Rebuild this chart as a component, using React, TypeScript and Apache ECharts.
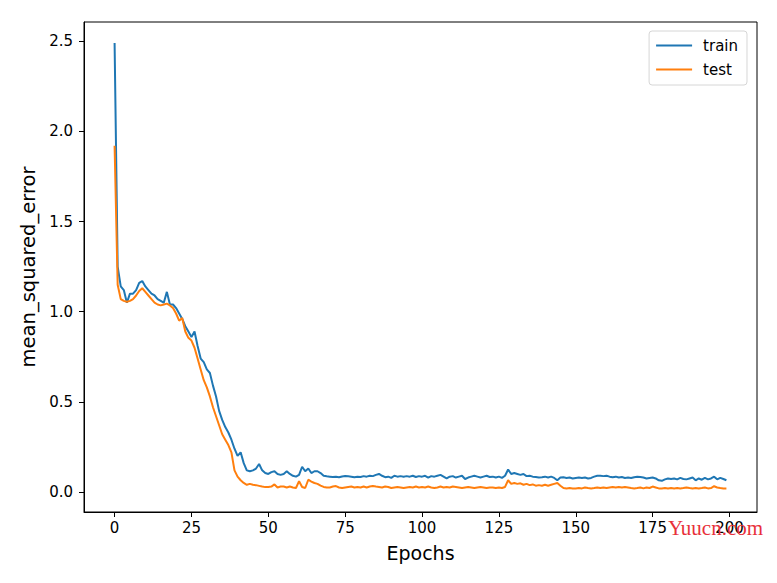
import React, { useEffect, useRef } from "react";
import * as echarts from "echarts";

const epochs: number[] = Array.from({ length: 200 }, (_, i) => i);

const trainMse: number[] = [
  2.49, 1.25, 1.14, 1.12, 1.05, 1.10, 1.10, 1.12, 1.16, 1.17,
  1.14, 1.12, 1.10, 1.09, 1.07, 1.06, 1.05, 1.11, 1.04, 1.04,
  1.02, 0.99, 0.96, 0.92, 0.89, 0.86, 0.89, 0.81, 0.74, 0.72,
  0.68, 0.66, 0.59, 0.53, 0.45, 0.40, 0.36, 0.33, 0.29, 0.24,
  0.20, 0.22, 0.16, 0.12, 0.115, 0.12, 0.13, 0.155, 0.12, 0.105,
  0.10, 0.11, 0.115, 0.10, 0.095, 0.10, 0.115, 0.10, 0.09, 0.085,
  0.095, 0.14, 0.115, 0.13, 0.105, 0.115, 0.115, 0.105, 0.09, 0.087,
  0.085, 0.083, 0.085, 0.082, 0.086, 0.089, 0.087, 0.085, 0.082, 0.085,
  0.083, 0.088, 0.085, 0.09, 0.088, 0.095, 0.1, 0.09, 0.082, 0.085,
  0.078, 0.09, 0.085, 0.088, 0.085, 0.088, 0.085, 0.09, 0.083, 0.088,
  0.085, 0.09, 0.08, 0.088, 0.085, 0.09, 0.095, 0.085, 0.075, 0.085,
  0.088, 0.08, 0.085, 0.09, 0.072, 0.08, 0.085, 0.09, 0.085, 0.08,
  0.085, 0.09, 0.083, 0.085, 0.08, 0.085, 0.078, 0.09, 0.125, 0.1,
  0.105, 0.1, 0.095, 0.1, 0.088, 0.09, 0.085, 0.083, 0.08, 0.082,
  0.085, 0.08, 0.085, 0.078, 0.065, 0.08, 0.082, 0.078, 0.08, 0.075,
  0.078, 0.08, 0.077, 0.08, 0.075, 0.078, 0.085, 0.09, 0.09, 0.088,
  0.09, 0.085, 0.082, 0.085, 0.08, 0.083, 0.078, 0.08, 0.078, 0.082,
  0.085, 0.083, 0.08, 0.075, 0.078, 0.08, 0.075, 0.065, 0.062, 0.07,
  0.075, 0.072, 0.075, 0.07, 0.078, 0.072, 0.07, 0.075, 0.08, 0.065,
  0.075, 0.068, 0.078, 0.07, 0.075, 0.085, 0.07, 0.078, 0.072, 0.065,
];

const testMse: number[] = [
  1.92, 1.15, 1.07, 1.06, 1.055, 1.06, 1.07, 1.09, 1.115, 1.13,
  1.11, 1.09, 1.07, 1.05, 1.04, 1.035, 1.04, 1.045, 1.035, 1.02,
  0.99, 0.95, 0.965, 0.89, 0.855, 0.84, 0.80, 0.74, 0.68, 0.62,
  0.58, 0.53, 0.47, 0.42, 0.37, 0.32, 0.29, 0.26, 0.22, 0.12,
  0.085, 0.065, 0.05, 0.04, 0.045, 0.04, 0.038, 0.034, 0.03, 0.027,
  0.028, 0.03, 0.042, 0.025, 0.03, 0.03, 0.025, 0.03, 0.025, 0.022,
  0.06, 0.028, 0.022, 0.068, 0.058, 0.05, 0.045, 0.035, 0.028, 0.025,
  0.025, 0.03, 0.033, 0.025, 0.022, 0.025, 0.028, 0.03, 0.025, 0.028,
  0.025, 0.03, 0.025, 0.03, 0.033, 0.03, 0.028, 0.025, 0.03, 0.028,
  0.022, 0.025, 0.028, 0.025, 0.022, 0.025, 0.028, 0.025, 0.03, 0.025,
  0.028, 0.025, 0.03, 0.025, 0.022, 0.025, 0.03, 0.025, 0.028, 0.025,
  0.03, 0.028, 0.025, 0.022, 0.025, 0.028, 0.025, 0.022, 0.025, 0.028,
  0.025, 0.022, 0.025, 0.025, 0.022, 0.025, 0.022, 0.028, 0.065, 0.045,
  0.05, 0.045, 0.048, 0.04, 0.045, 0.038, 0.042, 0.035, 0.038, 0.035,
  0.04, 0.035, 0.04, 0.045, 0.05, 0.035, 0.022, 0.02, 0.022, 0.02,
  0.02, 0.022, 0.02, 0.025, 0.022, 0.02, 0.022, 0.025, 0.022, 0.025,
  0.022, 0.025, 0.028, 0.025, 0.028, 0.025, 0.028, 0.025, 0.022, 0.02,
  0.022, 0.025, 0.02, 0.025, 0.022, 0.03, 0.025, 0.02, 0.02, 0.022,
  0.02, 0.022, 0.02, 0.022, 0.02, 0.022, 0.025, 0.022, 0.02, 0.022,
  0.02, 0.022, 0.025, 0.02, 0.022, 0.032, 0.025, 0.022, 0.02, 0.02,
];

const xTicks: number[] = [0, 25, 50, 75, 100, 125, 150, 175, 200];
const yTicks: number[] = [0, 0.5, 1.0, 1.5, 2.0, 2.5];

const FONT = "DejaVu Sans";

export default function App() {
  const ref = useRef<HTMLDivElement>(null);
  useEffect(() => {
    if (!ref.current) return;
    const chart = echarts.init(ref.current, undefined, { renderer: "svg" });
    const axisLine = { show: true, onZero: false, lineStyle: { color: "#000", width: 1 } };
    const tickStyle = { show: true, length: 5, lineStyle: { color: "#000", width: 1 } };
    chart.setOption({
      animation: false,
      backgroundColor: "#fff",
      grid: { left: 84, right: 20, top: 22, bottom: 71, containLabel: false, show: true, borderColor: "#000", borderWidth: 1 },
      legend: {
        right: 30,
        top: 31,
        orient: "vertical",
        icon: "rect",
        itemWidth: 36,
        itemHeight: 2,
        itemGap: 9,
        padding: [7, 9, 8, 7],
        borderColor: "#d6d6d6",
        borderWidth: 1,
        borderRadius: 3,
        backgroundColor: "#fff",
        textStyle: { fontFamily: FONT, fontSize: 15, color: "#000", padding: [0, 0, 0, 6] },
        data: ["train", "test"],
      },
      xAxis: {
        type: "value",
        min: -9.95,
        max: 208.95,
        name: "Epochs",
        nameLocation: "middle",
        nameGap: 31,
        nameTextStyle: { fontFamily: FONT, fontSize: 19, color: "#000" },
        axisLine,
        splitLine: { show: false },
        axisTick: { ...tickStyle, customValues: xTicks },
        axisLabel: { customValues: xTicks, fontFamily: FONT, fontSize: 15, color: "#000", margin: 8 },
      },
      yAxis: {
        type: "value",
        min: -0.111,
        max: 2.607,
        name: "mean_squared_error",
        nameLocation: "middle",
        nameGap: 46,
        nameTextStyle: { fontFamily: FONT, fontSize: 19.5, color: "#000" },
        axisLine,
        splitLine: { show: false },
        axisTick: { ...tickStyle, customValues: yTicks },
        axisLabel: {
          customValues: yTicks,
          fontFamily: FONT,
          fontSize: 15,
          color: "#000",
          margin: 11,
          formatter: (v: number) => v.toFixed(1),
        },
      },
      graphic: [
        {
          type: "text",
          left: 668,
          top: 517,
          style: { text: "Yuucn.com", fill: "#e8303a", font: "21px 'Liberation Serif'" },
          z: 100,
        },
      ],
      series: [
        {
          name: "train",
          type: "line",
          data: epochs.map((e, i) => [e, trainMse[i]]),
          showSymbol: false,
          symbol: "none",
          lineStyle: { color: "#1f77b4", width: 2 },
          itemStyle: { color: "#1f77b4" },
        },
        {
          name: "test",
          type: "line",
          data: epochs.map((e, i) => [e, testMse[i]]),
          showSymbol: false,
          symbol: "none",
          lineStyle: { color: "#ff7f0e", width: 2 },
          itemStyle: { color: "#ff7f0e" },
        },
      ],
    });
    return () => chart.dispose();
  }, []);
  return (
    <div
      ref={ref}
      style={{ position: "fixed", left: 0, top: 0, width: 777, height: 583, background: "#fff" }}
    />
  );
}
